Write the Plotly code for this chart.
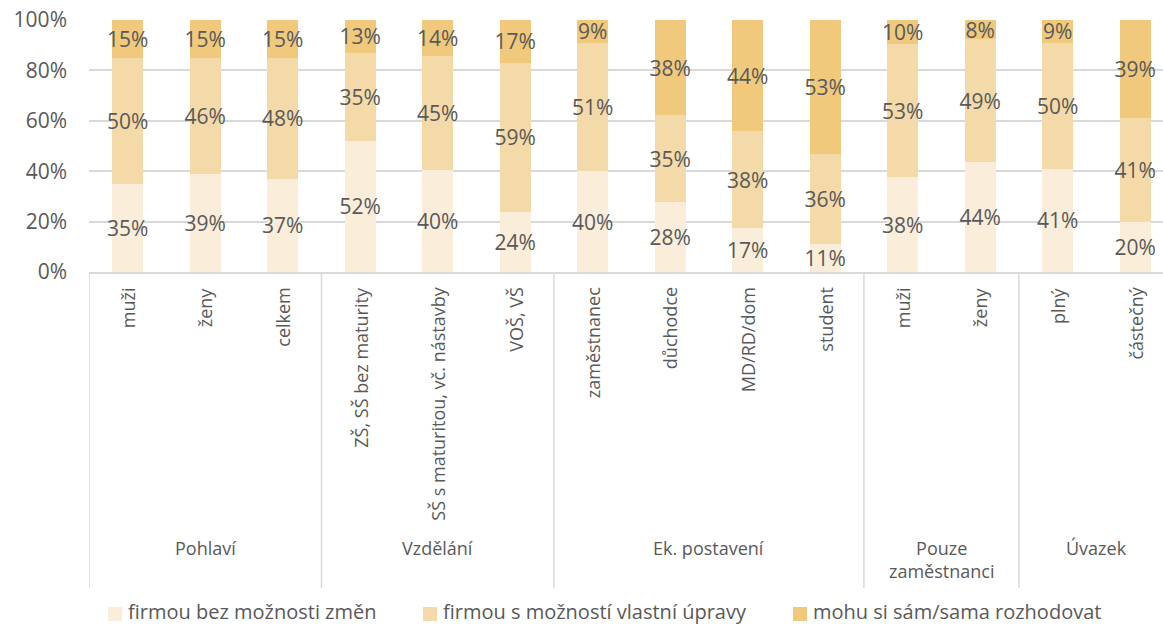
import plotly.graph_objects as go

categories = ["muži", "ženy", "celkem",
              "ZŠ, SŠ bez maturity", "SŠ s maturitou, vč. nástavby", "VOŠ, VŠ",
              "zaměstnanec", "důchodce", "MD/RD/dom", "student",
              "muži", "ženy",
              "plný", "částečný"]
group_names = ["Pohlaví", "Vzdělání", "Ek. postavení", "Pouze<br>zaměstnanci", "Úvazek"]
group_sizes = [3, 3, 4, 2, 2]

series_names = ["firmou bez možnosti změn", "firmou s možností vlastní úpravy", "mohu si sám/sama rozhodovat"]
bez_zmen = [35, 39, 37, 52, 40.4, 24, 40, 27.6, 17.4, 11, 37.6, 43.6, 41, 20]
s_upravou = [50, 46, 48, 35, 45.3, 59, 51, 34.7, 38.4, 36, 52.8, 48.7, 50, 41]
sam = [15, 15, 15, 13, 14.3, 17, 9, 37.7, 44.2, 53, 9.6, 7.7, 9, 39]

colors = ["#FAEEDA", "#F5DAA9", "#F0C97D"]
y_ticks = [0, 20, 40, 60, 80, 100]
y_tick_labels = ["0%", "20%", "40%", "60%", "80%", "100%"]

FONT = "Open Sans"
TXT = "#595959"
GRID = "#D9D9D9"

# layout geometry (pixels)
W, H = 1163, 627
L, T, B = 89, 20, 355
PW, PH = W - L, H - T - B
def px_x(px):
    return (px - L) / PW
def px_y(py):
    return (H - B - py) / PH

legend_left_px = [108, 423, 793]
legend_y_px = 613

xs = list(range(len(categories)))
fig = go.Figure()
for name, vals, col in zip(series_names, [bez_zmen, s_upravou, sam], colors):
    fig.add_trace(go.Bar(
        x=xs, y=vals, name=name, marker=dict(color=col, line=dict(width=0)),
        width=0.4, text=vals, texttemplate="%{text:.0f}%",
        textposition="inside", insidetextanchor="middle", constraintext="none",
        textangle=0,
        textfont=dict(family=FONT, size=21, color=TXT),
        hoverinfo="skip", showlegend=False,
    ))

ann = []
for i, c in enumerate(categories):
    ann.append(dict(x=i, y=px_y(285), xref="x", yref="paper", text=c, textangle=-90,
                    xanchor="center", yanchor="top", showarrow=False,
                    font=dict(family=FONT, size=18, color=TXT)))

shapes = []
start = 0
bounds = [-0.5]
for g, n in zip(group_names, group_sizes):
    center = start + (n - 1) / 2
    ann.append(dict(x=center, y=px_y(534), xref="x", yref="paper", text=g,
                    xanchor="center", yanchor="top", showarrow=False,
                    font=dict(family=FONT, size=18, color=TXT)))
    start += n
    bounds.append(start - 0.5)
for b in bounds:
    shapes.append(dict(type="line", xref="x", yref="paper", x0=b, x1=b, y0=0, y1=px_y(588),
                       line=dict(color=GRID, width=1.5)))

# legend (manual, to match entry spacing)
for name, col, lx in zip(series_names, colors, legend_left_px):
    shapes.append(dict(type="rect", xref="paper", yref="paper",
                       x0=px_x(lx), x1=px_x(lx + 14),
                       y0=px_y(legend_y_px + 8), y1=px_y(legend_y_px - 6),
                       fillcolor=col, line=dict(width=0)))
    ann.append(dict(x=px_x(lx + 18), y=px_y(legend_y_px - 2), xref="paper", yref="paper",
                    text=name, xanchor="left", yanchor="middle", showarrow=False,
                    font=dict(family=FONT, size=20, color=TXT)))

fig.update_layout(
    barmode="stack",
    width=W, height=H,
    margin=dict(l=L, r=0, t=T, b=B, autoexpand=False),
    paper_bgcolor="white", plot_bgcolor="white",
    font=dict(family=FONT, color=TXT),
    showlegend=False,
    xaxis=dict(range=[-0.5, 13.36], showticklabels=False, showgrid=False, zeroline=False,
               showline=True, linecolor=GRID, linewidth=1.5, ticks=""),
    yaxis=dict(range=[0, 100], tickvals=y_ticks, ticktext=y_tick_labels, showgrid=True,
               gridcolor=GRID, gridwidth=1.5, zeroline=False, showline=False,
               tickfont=dict(family=FONT, size=21, color=TXT), ticklabelstandoff=21),
    annotations=ann, shapes=shapes,
)
fig.write_html("out.html", config={"displayModeBar": False},
               post_script="document.body.style.margin='0';document.body.style.overflow='hidden';")
